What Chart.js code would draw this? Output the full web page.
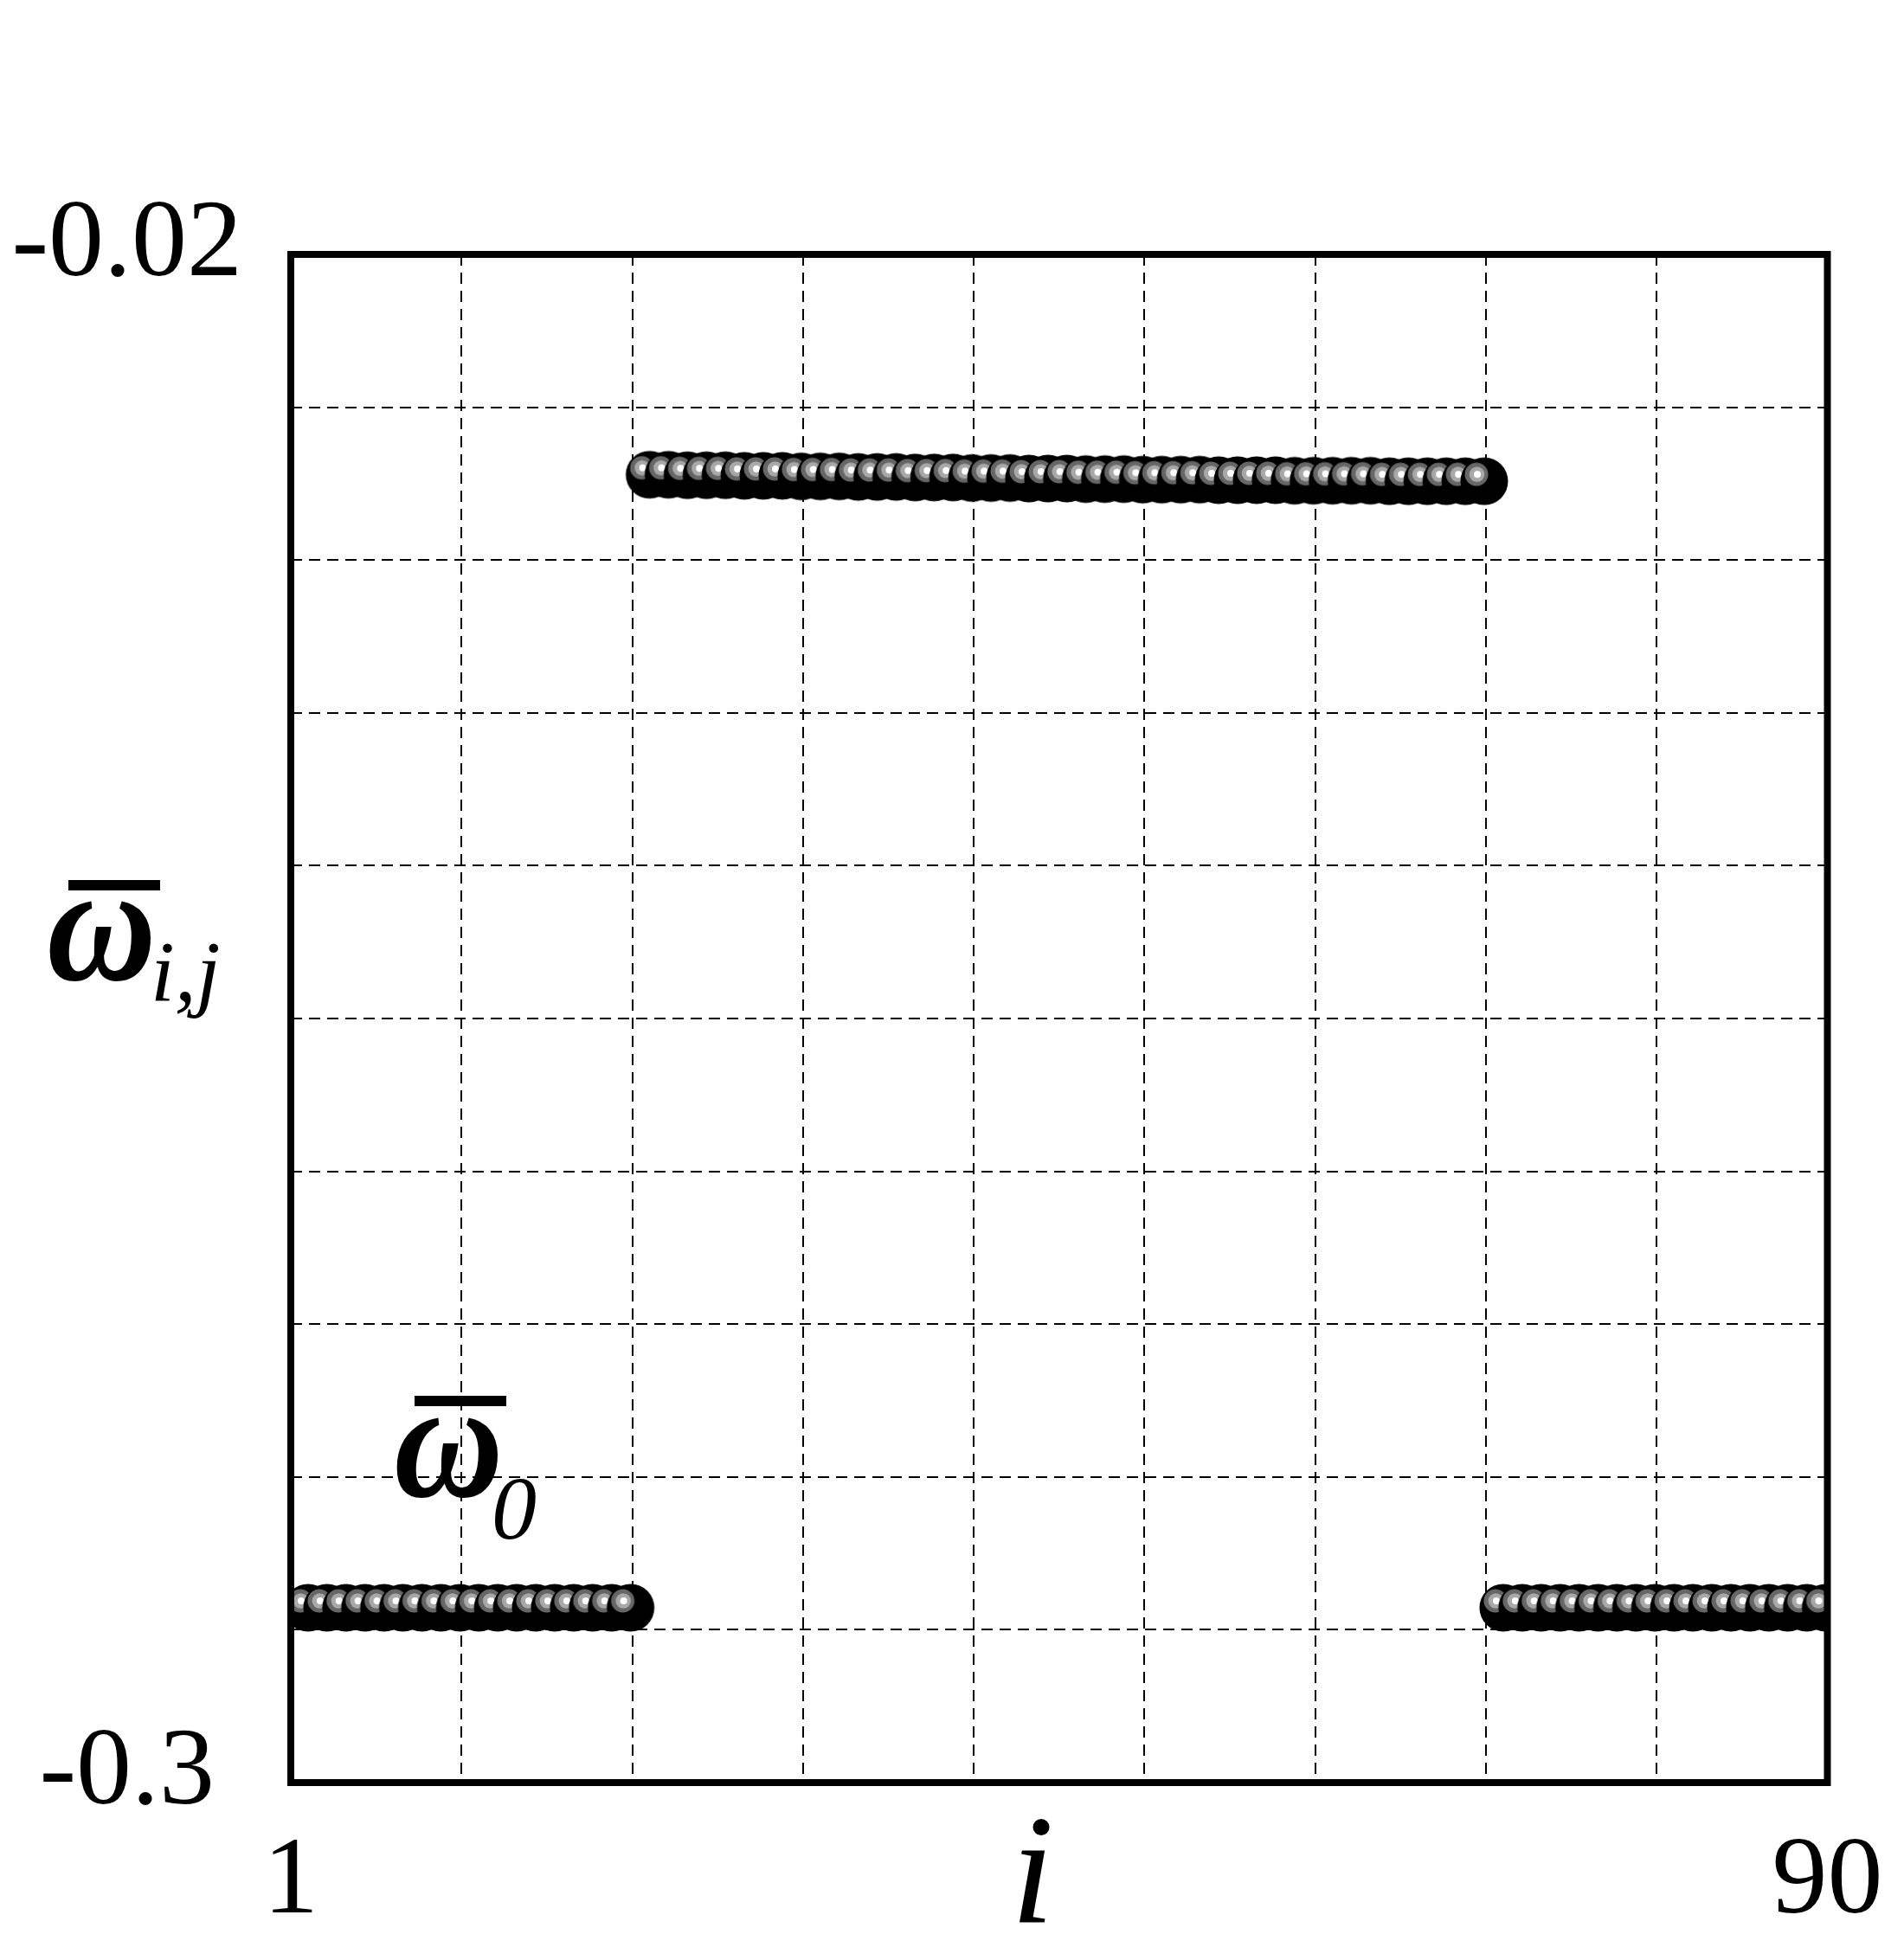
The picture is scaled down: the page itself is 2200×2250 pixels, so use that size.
<!DOCTYPE html>
<html>
<head>
<meta charset="utf-8">
<script src="https://cdn.jsdelivr.net/npm/chart.js@4.4.1/dist/chart.umd.min.js"></script>
<style>
  html, body { margin: 0; background: #fff; }
  #wrap { position: relative; width: 2200px; height: 2250px; }
  #wrap canvas { position: absolute; left: 0; top: 0; }
  .m { position: absolute; font-family: "Liberation Serif", "Times New Roman", serif; font-style: italic; line-height: 1; white-space: nowrap; color: #000; }
  .w { font-weight: bold; transform: scaleY(1.1); transform-origin: 0 83.75%; }
  .bar { position: absolute; background: #000; }
</style>
</head>
<body>
<div id="wrap">
  <canvas id="c"></canvas>
  <!-- y 轴标题 ω̄_{i,j} -->
  <div class="bar" style="left:79px;top:1017px;width:106px;height:12px;"></div>
  <div class="m w" style="left:54px;top:986px;font-size:175px;">ω</div>
  <div class="m" style="left:174px;top:1073px;font-size:100px;">i,j</div>
  <!-- 图内标注 ω̄_0 -->
  <div class="bar" style="left:479px;top:1613px;width:106px;height:12px;"></div>
  <div class="m w" style="left:455px;top:1583px;font-size:175px;">ω</div>
  <div class="m" style="left:568px;top:1691px;font-size:104px;">0</div>
  <!-- x 轴标题 -->
  <div class="m" style="left:1168px;top:2071px;font-size:180px;">i</div>
</div>
<script>
// ---- 数据 ----
// 每个点的 ω̄ 值：左段 18 个、中段 45 个、右段 18 个
const omegaLeft = [
  -0.2667, -0.2667, -0.2667, -0.2667, -0.2667, -0.2667, -0.2667, -0.2667, -0.2667,
  -0.2667, -0.2667, -0.2667, -0.2667, -0.2667, -0.2667, -0.2667, -0.2667, -0.2667,
];
const omegaMid = [
  -0.0591, -0.0591, -0.0592, -0.0592, -0.0592, -0.0593, -0.0593, -0.0593, -0.0594,
  -0.0594, -0.0594, -0.0595, -0.0595, -0.0595, -0.0596, -0.0596, -0.0596, -0.0597,
  -0.0597, -0.0597, -0.0598, -0.0598, -0.0598, -0.0599, -0.0599, -0.0599, -0.0600,
  -0.0600, -0.0600, -0.0600, -0.0601, -0.0601, -0.0601, -0.0601, -0.0602, -0.0602,
  -0.0602, -0.0602, -0.0602, -0.0603, -0.0603, -0.0603, -0.0603, -0.0603, -0.0603,
];
const omegaRight = [
  -0.2667, -0.2667, -0.2667, -0.2667, -0.2667, -0.2667, -0.2667, -0.2667, -0.2667,
  -0.2667, -0.2667, -0.2667, -0.2667, -0.2667, -0.2667, -0.2667, -0.2667, -0.2667,
];
const omega = omegaLeft.concat(omegaMid, omegaRight);
const pointIndex = omega.map((_, k) => String(k + 1));   // 点序号（隐藏的类别轴）

// 刻度
const yMin = -0.3, yMax = -0.02;
const yGrid = [-0.3, -0.272, -0.244, -0.216, -0.188, -0.16, -0.132, -0.104, -0.076, -0.048, -0.02];
const yTickLabels = { '-0.3': '-0.3', '-0.02': '-0.02' };
const xMin = 1, xMax = 90;
const xGridSteps = 9;
const xTickLabels = { 0: '1', 9: '90' };   // 只标两端

// 小球符号：右下偏移的黑色大圆 + 灰色球体
function makeBall() {
  const c = document.createElement('canvas');
  c.width = 96; c.height = 96;
  const g = c.getContext('2d');
  const dot = (x, y, r, col) => { g.fillStyle = col; g.beginPath(); g.arc(x, y, r, 0, Math.PI * 2); g.fill(); };
  dot(57, 56, 27.5, '#000');
  dot(48, 48, 13.5, '#666');
  dot(48.5, 48, 8.8, '#a8a8a8');
  dot(49, 48, 4, '#fff');
  return c;
}

const frame = {
  id: 'frame',
  afterDatasetsDraw(chart) {
    const { ctx, chartArea: a } = chart;
    ctx.save();
    ctx.lineWidth = 8; ctx.strokeStyle = '#000'; ctx.lineJoin = 'miter';
    ctx.strokeRect(a.left, a.top, a.right - a.left, a.bottom - a.top);
    ctx.restore();
  },
};

const tickFont = { family: '"Liberation Serif", "Times New Roman", serif', size: 128 };
const gridStyle = { color: '#000', lineWidth: 2, drawTicks: false };

new Chart(document.getElementById('c'), {
  type: 'line',
  data: {
    labels: pointIndex,
    datasets: [{
      data: omega,
      xAxisID: 'xi', yAxisID: 'y',
      showLine: false,
      pointStyle: makeBall(),
      pointRadius: 14,
      clip: 0,
    }],
  },
  options: {
    responsive: true, maintainAspectRatio: false, animation: false,
    devicePixelRatio: 1,
    layout: { padding: { left: 0, top: 294, right: 88.5, bottom: 0 } },
    plugins: { legend: { display: false }, tooltip: { enabled: false } },
    scales: {
      xi: { type: 'category', offset: true, display: false },
      x: {
        type: 'linear', position: 'bottom', min: xMin, max: xMax,
        afterBuildTicks: (s) => {
          const t = [];
          for (let k = 0; k <= xGridSteps; k++) t.push({ value: xMin + (xMax - xMin) * k / xGridSteps });
          s.ticks = t;
        },
        // 固定轴高，两端标签不再挤占绘图区
        afterFit: (s) => { s.height = 190; s.paddingLeft = 0; s.paddingRight = 0; },
        grid: gridStyle,
        border: { display: false, dash: [13, 8] },
        ticks: {
          autoSkip: false, maxRotation: 0, padding: 40, color: '#000', font: tickFont,
          callback: (v, i) => xTickLabels[i] || '',
        },
      },
      y: {
        type: 'linear', min: yMin, max: yMax,
        afterBuildTicks: (s) => { s.ticks = yGrid.map((v) => ({ value: v })); },
        afterFit: (s) => { s.width = 336; s.paddingTop = 0; s.paddingBottom = 0; },
        grid: gridStyle,
        border: { display: false, dash: [13, 8] },
        ticks: {
          crossAlign: 'center', padding: 56, labelOffset: -10, color: '#000', font: tickFont,
          callback: (v) => yTickLabels[String(+v.toFixed(4))] || '',
        },
      },
    },
  },
  plugins: [frame],
});
</script>
</body>
</html>
